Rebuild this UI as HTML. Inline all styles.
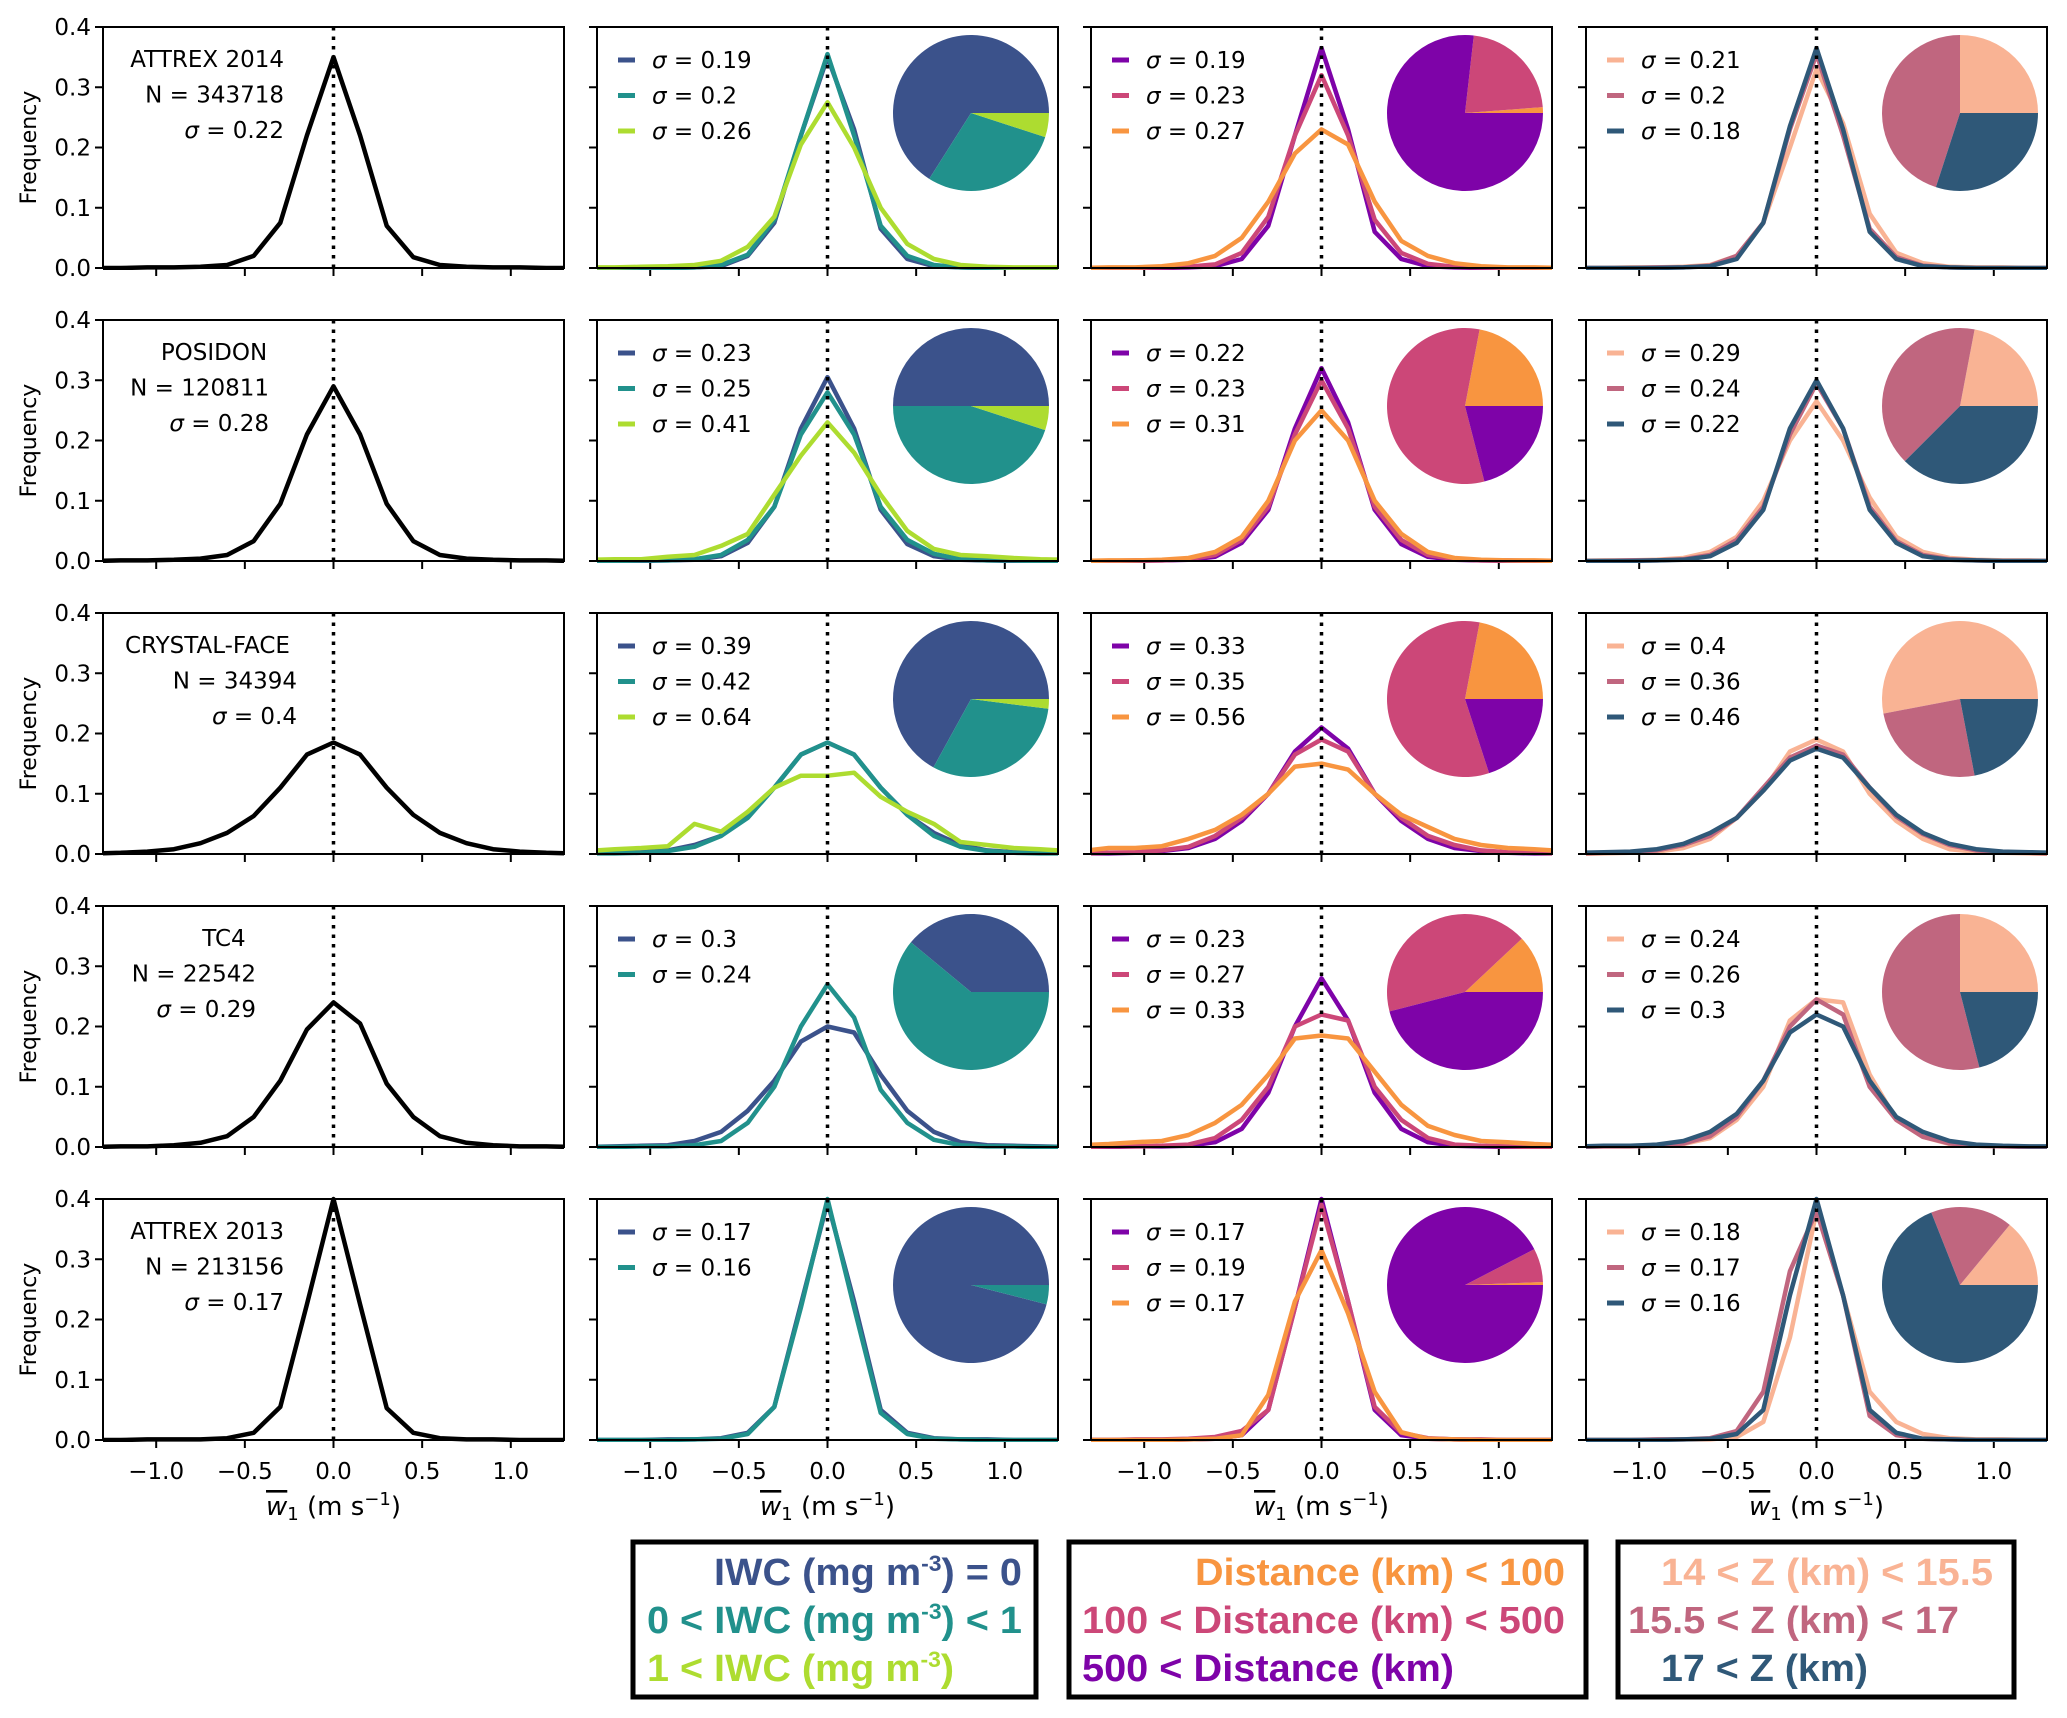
<!DOCTYPE html>
<html><head><meta charset="utf-8"><style>
html,body{margin:0;padding:0;background:#fff}
svg{display:block}
text{font-family:"DejaVu Sans","Liberation Sans",sans-serif}
.lg{font-family:"Liberation Sans",sans-serif;font-weight:bold;font-size:38px}
</style></head><body>
<svg id="fig" xmlns="http://www.w3.org/2000/svg" width="2067" height="1718" viewBox="0 0 2067 1718"></svg>
<script>
const xBins=[-1.35,-1.2,-1.05,-0.9,-0.75,-0.6,-0.45,-0.3,-0.15,0,0.15,0.3,0.45,0.6,0.75,0.9,1.05,1.2,1.35];
const xTicks=[-1.0,-0.5,0.0,0.5,1.0];
const xTickLabels=["\u22121.0","\u22120.5","0.0","0.5","1.0"];
const yTicks=[0,0.1,0.2,0.3,0.4];
const yTickLabels=["0.0","0.1","0.2","0.3","0.4"];
const campaigns=["ATTREX 2014","POSIDON","CRYSTAL-FACE","TC4","ATTREX 2013"];
const campaignN=["343718","120811","34394","22542","213156"];
const campaignSigma=["0.22","0.28","0.4","0.29","0.17"];
const allValues=[
[0,0,0.001,0.001,0.002,0.005,0.02,0.075,0.22,0.35,0.22,0.07,0.018,0.005,0.002,0.001,0.001,0,0],
[0,0.001,0.001,0.002,0.004,0.01,0.033,0.095,0.21,0.29,0.21,0.095,0.033,0.01,0.004,0.002,0.001,0.001,0],
[0.001,0.002,0.004,0.008,0.018,0.035,0.063,0.11,0.165,0.185,0.165,0.11,0.065,0.035,0.018,0.008,0.004,0.002,0.001],
[0,0.001,0.001,0.003,0.007,0.018,0.05,0.11,0.195,0.24,0.205,0.105,0.05,0.018,0.007,0.003,0.001,0.001,0],
[0,0,0.001,0.001,0.001,0.003,0.012,0.055,0.225,0.4,0.225,0.053,0.012,0.003,0.001,0.001,0,0,0]];
const iwcColors=["#3b528b","#21918c","#addc30"];
const distColors=["#7e03a8","#cc4778","#f89540"];
const zColors=["#f9b394","#c0667f","#2f5878"];
const iwcValues=[
[[0,0,0,0,0.001,0.003,0.02,0.075,0.22,0.35,0.23,0.065,0.015,0.003,0.001,0,0,0,0],
 [0,0,0,0,0.001,0.005,0.022,0.08,0.22,0.355,0.22,0.07,0.02,0.005,0.001,0,0,0,0],
 [0.001,0.001,0.002,0.003,0.005,0.012,0.035,0.085,0.205,0.275,0.2,0.1,0.04,0.015,0.005,0.002,0.001,0.001,0.001]],
[[0,0,0,0.001,0.002,0.008,0.03,0.09,0.22,0.305,0.22,0.085,0.028,0.008,0.002,0.001,0,0,0],
 [0,0,0.001,0.001,0.003,0.01,0.035,0.09,0.21,0.28,0.21,0.09,0.035,0.012,0.003,0.001,0.001,0,0],
 [0.002,0.003,0.003,0.007,0.01,0.025,0.045,0.11,0.175,0.23,0.18,0.11,0.05,0.02,0.01,0.008,0.005,0.003,0.002]],
[[0.001,0.002,0.003,0.006,0.015,0.03,0.065,0.11,0.165,0.185,0.165,0.11,0.065,0.035,0.015,0.006,0.003,0.002,0.001],
 [0.001,0.001,0.002,0.005,0.012,0.03,0.06,0.11,0.165,0.185,0.165,0.11,0.065,0.03,0.012,0.005,0.002,0.001,0.001],
 [0.005,0.008,0.01,0.013,0.05,0.037,0.07,0.11,0.13,0.13,0.135,0.095,0.07,0.05,0.02,0.015,0.01,0.008,0.005]],
[[0,0.001,0.002,0.003,0.01,0.025,0.06,0.11,0.175,0.2,0.19,0.12,0.06,0.025,0.008,0.003,0.002,0.001,0],
 [0,0,0.001,0.001,0.003,0.01,0.04,0.1,0.2,0.27,0.215,0.095,0.04,0.012,0.003,0.001,0.001,0,0]],
[[0,0,0,0.001,0.001,0.003,0.012,0.055,0.225,0.395,0.23,0.05,0.012,0.003,0.001,0.001,0,0,0],
 [0,0,0,0,0.001,0.002,0.01,0.055,0.22,0.4,0.22,0.045,0.01,0.002,0.001,0,0,0,0]]];
const distValues=[
[[0,0,0,0,0.001,0.003,0.015,0.07,0.22,0.365,0.23,0.06,0.015,0.003,0.001,0,0,0,0],
 [0,0,0,0.001,0.002,0.006,0.025,0.085,0.22,0.32,0.22,0.08,0.025,0.007,0.002,0.001,0,0,0],
 [0,0.001,0.001,0.003,0.008,0.02,0.05,0.11,0.19,0.23,0.205,0.11,0.045,0.02,0.008,0.003,0.001,0.001,0]],
[[0,0,0,0.001,0.002,0.007,0.03,0.085,0.22,0.32,0.23,0.085,0.028,0.007,0.002,0.001,0,0,0],
 [0,0,0.001,0.001,0.003,0.01,0.035,0.09,0.21,0.3,0.22,0.09,0.035,0.01,0.003,0.001,0.001,0,0],
 [0,0.001,0.001,0.002,0.005,0.015,0.04,0.1,0.2,0.25,0.2,0.1,0.045,0.015,0.005,0.002,0.001,0.001,0]],
[[0.001,0.001,0.002,0.005,0.01,0.025,0.055,0.1,0.17,0.21,0.175,0.1,0.055,0.025,0.01,0.005,0.002,0.001,0.001],
 [0.001,0.002,0.003,0.006,0.012,0.03,0.06,0.1,0.165,0.19,0.17,0.1,0.06,0.03,0.015,0.006,0.003,0.002,0.001],
 [0.005,0.01,0.01,0.013,0.025,0.04,0.065,0.1,0.145,0.15,0.14,0.1,0.065,0.045,0.025,0.015,0.01,0.008,0.005]],
[[0,0,0.001,0.001,0.002,0.008,0.03,0.09,0.2,0.28,0.21,0.09,0.03,0.008,0.002,0.001,0,0,0],
 [0,0.001,0.001,0.002,0.004,0.015,0.045,0.1,0.2,0.22,0.21,0.1,0.045,0.015,0.004,0.002,0.001,0,0],
 [0.003,0.005,0.008,0.01,0.02,0.04,0.07,0.12,0.18,0.185,0.18,0.125,0.07,0.035,0.02,0.01,0.008,0.005,0.003]],
[[0,0,0,0,0.001,0.002,0.008,0.05,0.22,0.4,0.23,0.05,0.008,0.002,0.001,0,0,0,0],
 [0,0,0.001,0.001,0.002,0.005,0.015,0.05,0.22,0.39,0.23,0.055,0.012,0.003,0.001,0.001,0,0,0],
 [0,0,0,0,0.001,0.002,0.008,0.075,0.23,0.315,0.21,0.08,0.013,0.002,0.001,0,0,0,0]]];
const zValues=[
[[0,0,0.001,0.001,0.002,0.005,0.02,0.075,0.2,0.33,0.24,0.09,0.025,0.008,0.002,0.001,0.001,0,0],
 [0,0,0,0.001,0.001,0.004,0.02,0.075,0.23,0.355,0.22,0.065,0.018,0.004,0.001,0,0,0,0],
 [0,0,0,0,0.001,0.003,0.015,0.075,0.235,0.365,0.23,0.06,0.015,0.003,0.001,0,0,0,0]],
[[0,0.001,0.001,0.002,0.005,0.015,0.04,0.1,0.2,0.265,0.2,0.105,0.04,0.015,0.005,0.002,0.001,0.001,0],
 [0,0,0.001,0.001,0.003,0.01,0.035,0.09,0.21,0.295,0.22,0.09,0.033,0.01,0.003,0.001,0,0,0],
 [0,0,0,0.001,0.002,0.008,0.03,0.085,0.22,0.3,0.22,0.085,0.03,0.008,0.002,0.001,0,0,0]],
[[0,0.001,0.002,0.004,0.01,0.025,0.06,0.105,0.17,0.19,0.17,0.1,0.055,0.025,0.008,0.004,0.002,0.001,0],
 [0.001,0.002,0.003,0.006,0.015,0.03,0.06,0.11,0.16,0.18,0.165,0.11,0.062,0.033,0.015,0.006,0.003,0.002,0.001],
 [0.002,0.003,0.004,0.008,0.017,0.035,0.06,0.105,0.155,0.175,0.16,0.11,0.065,0.035,0.017,0.008,0.004,0.003,0.002]],
[[0,0.001,0.001,0.002,0.005,0.015,0.045,0.1,0.21,0.245,0.24,0.12,0.045,0.017,0.005,0.002,0.001,0.001,0],
 [0,0.001,0.001,0.002,0.006,0.018,0.05,0.11,0.2,0.245,0.22,0.1,0.045,0.017,0.006,0.002,0.001,0,0],
 [0.001,0.002,0.002,0.004,0.01,0.025,0.055,0.11,0.19,0.22,0.2,0.11,0.05,0.025,0.01,0.004,0.002,0.001,0.001]],
[[0,0,0,0,0.001,0.001,0.005,0.03,0.17,0.38,0.24,0.08,0.03,0.01,0.003,0.001,0.001,0,0],
 [0,0,0,0.001,0.001,0.003,0.015,0.08,0.28,0.38,0.24,0.04,0.008,0.002,0.001,0,0,0,0],
 [0,0,0,0,0.001,0.002,0.01,0.05,0.24,0.4,0.24,0.05,0.012,0.002,0.001,0,0,0,0]]];
const iwcSigmas=[["0.19","0.2","0.26"],["0.23","0.25","0.41"],["0.39","0.42","0.64"],["0.3","0.24"],["0.17","0.16"]];
const distSigmas=[["0.19","0.23","0.27"],["0.22","0.23","0.31"],["0.33","0.35","0.56"],["0.23","0.27","0.33"],["0.17","0.19","0.17"]];
const zSigmas=[["0.21","0.2","0.18"],["0.29","0.24","0.22"],["0.4","0.36","0.46"],["0.24","0.26","0.3"],["0.18","0.17","0.16"]];
// pie fractions (counter-clockwise from 0 deg)
const iwcPie=[[0.66,0.29,0.05],[0.5,0.45,0.05],[0.67,0.31,0.02],[0.39,0.61],[0.96,0.04]];
const iwcPieColors=["#3b528b","#21918c","#addc30"];
const distPie=[[0.012,0.22,0.768],[0.22,0.57,0.21],[0.22,0.58,0.2],[0.12,0.42,0.46],[0.006,0.07,0.924]];
const distPieColors=["#f89540","#cc4778","#7e03a8"];
const zPie=[[0.25,0.45,0.30],[0.22,0.405,0.375],[0.53,0.25,0.22],[0.25,0.54,0.21],[0.14,0.17,0.69]];
const zPieColors=["#f9b394","#c0667f","#2f5878"];

const NS="http://www.w3.org/2000/svg";
const svg=document.getElementById('fig');
const colX=[103,597,1091,1586], PW=461, PH=241, rowY=[27,320,613,906,1199];
function mk(tag,attrs,parent){const e=document.createElementNS(NS,tag);for(const k in attrs)e.setAttribute(k,attrs[k]);(parent||svg).appendChild(e);return e;}
function sx(c,v){return colX[c]+(v+1.3)/2.6*PW;}
function sy(r,v){return rowY[r]+PH-(v/0.4)*PH;}

for(let r=0;r<5;r++){for(let c=0;c<4;c++){
  const g=mk('g',{});
  
  
  const cid='clip'+r+c;
  const cp=mk('clipPath',{id:cid},g);mk('rect',{x:colX[c],y:rowY[r]-6,width:PW,height:PH+8},cp);
  xTicks.forEach((t,i)=>{const tk=mk('line',{x1:sx(c,t),x2:sx(c,t),y1:rowY[r]+PH,y2:rowY[r]+PH+8,stroke:'#000','stroke-width':2},g);
    
    if(r===4){const tl=mk('text',{x:sx(c,t),y:rowY[r]+PH+39,'font-size':23,'text-anchor':'middle'},g);tl.textContent=xTickLabels[i];
      }});
  yTicks.forEach((t,i)=>{const tk=mk('line',{x1:colX[c]-8,x2:colX[c],y1:sy(r,t),y2:sy(r,t),stroke:'#000','stroke-width':2},g);
    
    if(c===0){const tl=mk('text',{x:colX[c]-12,y:sy(r,t)+8,'font-size':23,'text-anchor':'end'},g);tl.textContent=yTickLabels[i];
      }});
  let series,colors,sig,pie,pcols;
  if(c===0){series=[allValues[r]];colors=['#000'];}
  else if(c===1){series=iwcValues[r];colors=iwcColors;sig=iwcSigmas[r];pie=iwcPie[r];pcols=iwcPieColors;}
  else if(c===2){series=distValues[r];colors=distColors;sig=distSigmas[r];pie=distPie[r];pcols=distPieColors;}
  else {series=zValues[r];colors=zColors;sig=zSigmas[r];pie=zPie[r];pcols=zPieColors;}
  series.forEach((vals,k)=>{
    const pts=vals.map((v,i)=>sx(c,xBins[i]).toFixed(1)+','+sy(r,v).toFixed(1)).join(' ');
    const pl=mk('polyline',{points:pts,fill:'none',stroke:colors[k],'stroke-width':4.5,'stroke-linejoin':'round','clip-path':'url(#'+cid+')'},g);
    
    
  });
  const zl=mk('line',{x1:sx(c,0),x2:sx(c,0),y1:rowY[r],y2:rowY[r]+PH,stroke:'#000','stroke-width':3.5,'stroke-dasharray':'3.5 6'},g);
  
  if(c===0){
    const lines=[[campaigns[r],null],['N = '+campaignN[r],null],['\u03c3',' = '+campaignSigma[r]]];
    const anchors=[[284,284,284],[269,269,269],[297,297,297],[254,256,256],[284,284,284]][r];
    const first=[{x:284,a:'end'},{x:214,a:'middle'},{x:125,a:'start'},{x:224,a:'middle'},{x:284,a:'end'}][r];
    lines.forEach((ln,i)=>{
      const t=mk('text',{x:i===0?first.x:anchors[i],y:rowY[r]+40+i*35.5,'font-size':23,'text-anchor':i===0?first.a:'end'},g);
      
      if(ln[1]===null)t.textContent=ln[0];else{const a=mk('tspan',{'font-style':'italic'},t);a.textContent=ln[0];const b=mk('tspan',{},t);b.textContent=ln[1];}
    });
  } else {
    sig.forEach((s,k)=>{
      const yy=rowY[r]+33+k*35.5;
      const h=mk('line',{x1:colX[c]+21,x2:colX[c]+38,y1:yy,y2:yy,stroke:colors[k],'stroke-width':5},g);
      
      const t=mk('text',{x:colX[c]+55,y:yy+8,'font-size':23},g);
      
      const a=mk('tspan',{'font-style':'italic'},t);a.textContent='\u03c3';const b=mk('tspan',{},t);b.textContent=' = '+s;
    });
    const cx=colX[c]+374, cy=rowY[r]+86, R=78;let ang=0;
    pie.forEach((f,k)=>{
      const a0=ang, a1=ang+f*2*Math.PI; ang=a1;
      const x0=cx+R*Math.cos(a0), y0=cy-R*Math.sin(a0), x1=cx+R*Math.cos(a1), y1=cy-R*Math.sin(a1);
      const large=(a1-a0)>Math.PI?1:0;
      const p=mk('path',{d:`M${cx},${cy} L${x0.toFixed(2)},${y0.toFixed(2)} A${R},${R} 0 ${large} 0 ${x1.toFixed(2)},${y1.toFixed(2)} Z`,fill:pcols[k]},g);
      
    });
  }
  const fr=mk('rect',{x:colX[c],y:rowY[r],width:PW,height:PH,fill:'none',stroke:'#000','stroke-width':2},g);
  
  if(c===0){const yl=mk('text',{x:0,y:0,'font-size':22,'text-anchor':'middle',transform:`translate(36,${rowY[r]+PH/2}) rotate(-90)`},g);
    yl.textContent='Frequency';}
  if(r===4){const xl=mk('text',{x:colX[c]+PW/2,y:1515,'font-size':26,'text-anchor':'middle'},g);
    
    const w=mk('tspan',{'font-style':'italic','text-decoration':'overline'},xl);w.textContent='w';
    const s1=mk('tspan',{'font-size':18,dy:5},xl);s1.textContent='1';
    const s2=mk('tspan',{dy:-5},xl);s2.textContent=' (m s';
    const s3=mk('tspan',{'font-size':18,dy:-10},xl);s3.textContent='\u22121';
    const s4=mk('tspan',{dy:10},xl);s4.textContent=')';}
}}
</script>
<svg xmlns="http://www.w3.org/2000/svg" width="2067" height="1718" style="position:absolute;left:0;top:0">
<g>
<rect x="633" y="1542" width="403" height="155" fill="none" stroke="#000" stroke-width="5"/>
<text class="lg" x="714" y="1585" textLength="308" lengthAdjust="spacingAndGlyphs" fill="#3b528b">IWC (mg m<tspan font-size="22" dy="-14">-3</tspan><tspan dy="14">) = 0</tspan></text>
<text class="lg" x="647" y="1633" textLength="375" lengthAdjust="spacingAndGlyphs" fill="#21918c">0 &lt; IWC (mg m<tspan font-size="22" dy="-14">-3</tspan><tspan dy="14">) &lt; 1</tspan></text>
<text class="lg" x="647" y="1681" textLength="307" lengthAdjust="spacingAndGlyphs" fill="#addc30">1 &lt; IWC (mg m<tspan font-size="22" dy="-14">-3</tspan><tspan dy="14">)</tspan></text>
</g>
<g>
<rect x="1069" y="1542" width="517" height="155" fill="none" stroke="#000" stroke-width="5"/>
<text class="lg" x="1195" y="1585" textLength="370" lengthAdjust="spacingAndGlyphs" fill="#f89540">Distance (km) &lt; 100</text>
<text class="lg" x="1082" y="1633" textLength="483" lengthAdjust="spacingAndGlyphs" fill="#cc4778">100 &lt; Distance (km) &lt; 500</text>
<text class="lg" x="1082" y="1681" textLength="372" lengthAdjust="spacingAndGlyphs" fill="#7e03a8">500 &lt; Distance (km)</text>
</g>
<g>
<rect x="1618" y="1542" width="396" height="155" fill="none" stroke="#000" stroke-width="5"/>
<text class="lg" x="1661" y="1585" textLength="332" lengthAdjust="spacingAndGlyphs" fill="#f9b394">14 &lt; Z (km) &lt; 15.5</text>
<text class="lg" x="1628" y="1633" textLength="331" lengthAdjust="spacingAndGlyphs" fill="#c0667f">15.5 &lt; Z (km) &lt; 17</text>
<text class="lg" x="1661" y="1681" textLength="207" lengthAdjust="spacingAndGlyphs" fill="#2f5878">17 &lt; Z (km)</text>
</g>
</svg>
</body></html>
